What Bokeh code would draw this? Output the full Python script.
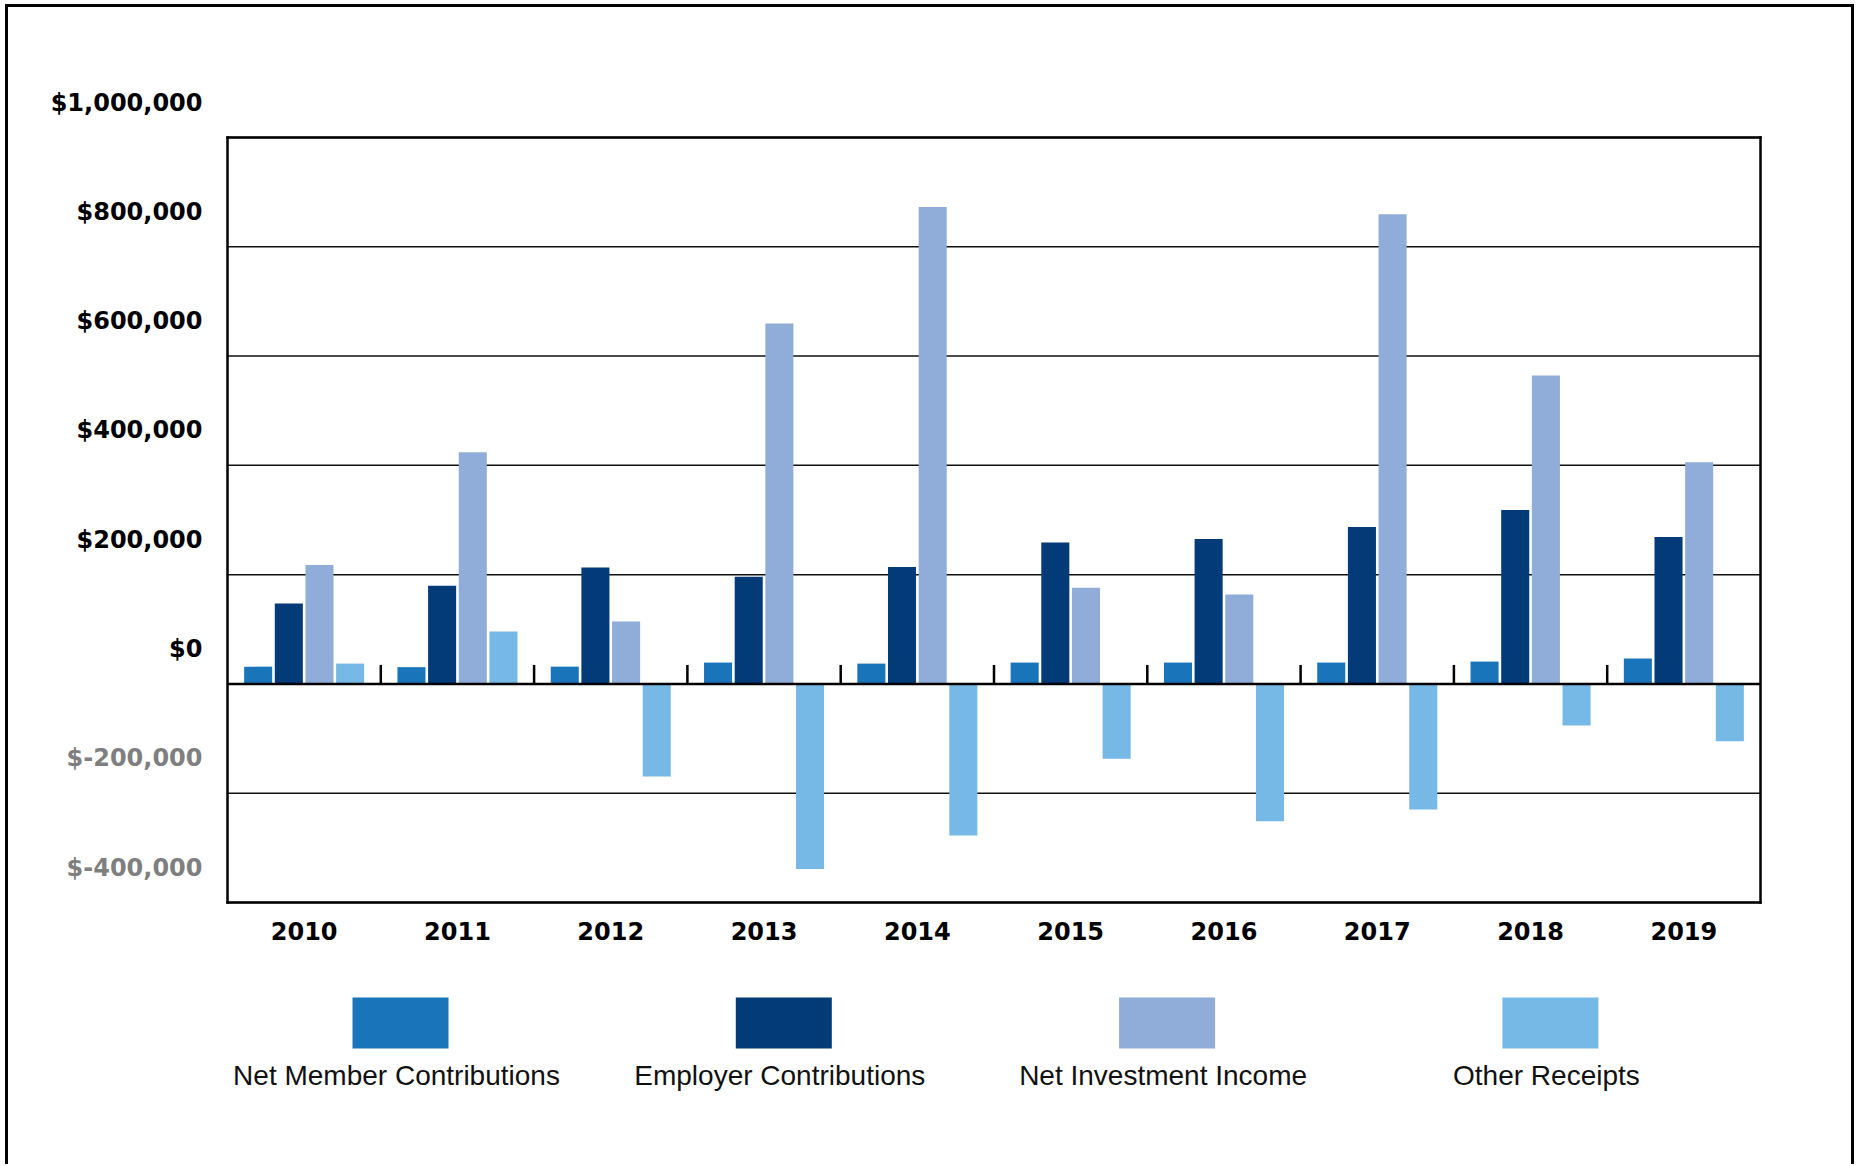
from bokeh.plotting import figure
from bokeh.models import ColumnDataSource, Range1d, FixedTicker
from bokeh.layouts import column
from bokeh.core.properties import value
from bokeh.embed import file_html
from bokeh.resources import INLINE

# ---- data ----
years = [2010, 2011, 2012, 2013, 2014, 2015, 2016, 2017, 2018, 2019]
net_member = [31600, 30700, 31600, 39100, 37200, 39100, 39100, 39100, 40900, 46500]
employer = [147000, 179500, 213000, 196300, 214000, 258600, 265100, 287400, 318100, 268800]
net_invest = [217700, 424200, 114400, 659500, 872600, 175800, 163700, 859500, 564600, 405600]
other = [37200, 95800, -169300, -338600, -277200, -136700, -251200, -229800, -76300, -105100]
series_names = ["Net Member Contributions", "Employer Contributions",
                "Net Investment Income", "Other Receipts"]
series_colors = ["#1a74ba", "#033a78", "#90acd8", "#76b9e7"]
y_ticks = [-400000, -200000, 0, 200000, 400000, 600000, 800000, 1000000]
y_tick_labels = ["$-400,000", "$-200,000", "$0", "$200,000", "$400,000",
                 "$600,000", "$800,000", "$1,000,000"]

Y_MIN, Y_MAX = y_ticks[0], y_ticks[-1]
X_MIN, X_MAX = years[0] - 0.5, years[-1] + 0.5

# ---- layout constants (pixels) ----
ORG_X, ORG_Y = 8, 7                      # content origin on the page
BOX_L, BOX_R, BOX_T, BOX_B = 227, 1760, 137, 902   # plot box on the page
FIG_W, FIG_H = 1843, 964
FR_L, FR_R, FR_T, FR_B = 16, 1845, 60, 905          # main frame on the page
px_x = (X_MAX - X_MIN) / (BOX_R - BOX_L)           # data per px
px_y = (Y_MAX - Y_MIN) / (BOX_B - BOX_T)

x_range = Range1d(X_MIN - (BOX_L - FR_L) * px_x, X_MAX + (FR_R - BOX_R) * px_x)
y_range = Range1d(Y_MIN - (FR_B - BOX_B) * px_y, Y_MAX + (BOX_T - FR_T) * px_y)

p = figure(x_range=x_range, y_range=y_range, width=FIG_W, height=FIG_H,
           output_backend="svg", toolbar_location=None, y_axis_location=None,
           min_border_left=FR_L - ORG_X, min_border_right=ORG_X + FIG_W - FR_R,
           min_border_top=FR_T - ORG_Y, min_border_bottom=ORG_Y + FIG_H - FR_B)
p.background_fill_color = "white"
p.border_fill_color = "white"
p.outline_line_color = None
p.grid.visible = False

# grid lines inside the plot box
p.segment(x0=[X_MIN] * len(y_ticks), x1=[X_MAX] * len(y_ticks), y0=y_ticks, y1=y_ticks,
          line_color="#111111", line_width=1.5)

# bars
src = ColumnDataSource(dict(year=years, nmc=net_member, ec=employer, nii=net_invest, orc=other))
cols = ["nmc", "ec", "nii", "orc"]
offsets = [-0.3, -0.1, 0.1, 0.3]
for c, off, col in zip(cols, offsets, series_colors):
    p.vbar(x=[y + off for y in years], top=src.data[c], width=0.183,
           fill_color=col, line_color=None)

# zero line and category boundary ticks
p.segment(x0=[X_MIN], x1=[X_MAX], y0=[0], y1=[0], line_color="black", line_width=2.5)
tick_len = 19 * px_y
p.segment(x0=[y - 0.5 for y in years[1:]], x1=[y - 0.5 for y in years[1:]],
          y0=[0] * 9, y1=[tick_len] * 9, line_color="black", line_width=2.5)

# plot box
p.segment(x0=[X_MIN, X_MIN, X_MIN, X_MAX], x1=[X_MAX, X_MAX, X_MIN, X_MAX],
          y0=[Y_MIN, Y_MAX, Y_MIN, Y_MIN], y1=[Y_MIN, Y_MAX, Y_MAX, Y_MAX],
          line_color="black", line_width=2.5, line_cap="square")

# y tick labels floated above their grid lines
p.text(x=[X_MIN] * len(y_ticks), y=y_ticks, text=y_tick_labels,
       x_offset=-25, y_offset=-35, text_align="right", text_baseline="middle",
       text_font=value("DejaVu Sans"), text_font_style="bold", text_font_size="24px",
       text_color=["#7f7f7f" if v < 0 else "black" for v in y_ticks])

# x axis (years)
xa = p.xaxis[0]
xa.ticker = FixedTicker(ticks=years)
xa.axis_line_color = None
xa.major_tick_line_color = None
xa.minor_tick_line_color = None
xa.major_label_text_font = "DejaVu Sans"
xa.major_label_text_font_style = "bold"
xa.major_label_text_font_size = "24px"
xa.major_label_text_color = "black"
xa.major_label_standoff = 10

# ---- legend panel ----
LEG_TOP = ORG_Y + FIG_H
LEG_H = 193
leg = figure(width=FIG_W, height=LEG_H, x_range=Range1d(FR_L, FR_R),
             y_range=Range1d(LEG_TOP + LEG_H, LEG_TOP),
             output_backend="svg", toolbar_location=None,
             x_axis_location=None, y_axis_location=None,
             min_border_left=FR_L - ORG_X, min_border_right=ORG_X + FIG_W - FR_R,
             min_border_top=0, min_border_bottom=0)
leg.outline_line_color = None
leg.background_fill_color = "white"
leg.border_fill_color = "white"
leg.grid.visible = False
first_c, step = 400, 383.3
centers = [first_c + step * i for i in range(4)]
leg.quad(left=[c - 48 for c in centers], right=[c + 48 for c in centers],
         top=[997] * 4, bottom=[1048] * 4, fill_color=series_colors, line_color=None)
leg.text(x=[c - 4 for c in centers], y=[1075] * 4, text=series_names, text_align="center",
         text_baseline="middle", text_font=value("Liberation Sans"),
         text_font_size="28px", text_color="#111111")

layout = column(p, leg, spacing=0,
                styles={"margin-left": "5px", "margin-top": "4px",
                        "border-left": "3px solid black", "border-top": "3px solid black",
                        "border-right": "3px solid black"})

open("out.html", "w").write(file_html(layout, INLINE))
